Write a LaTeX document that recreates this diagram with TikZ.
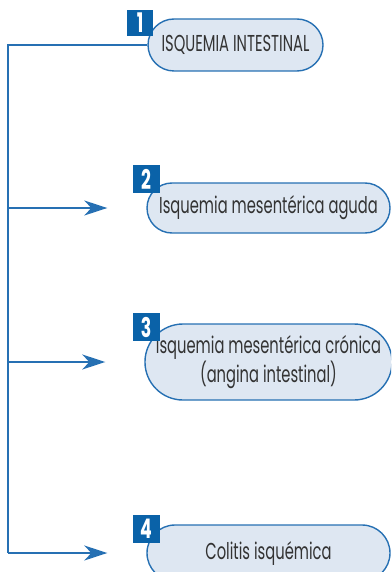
\documentclass[tikz,border=0pt]{standalone}
\usepackage{fontspec}
\setmainfont{Poppins}[FakeStretch=0.64]
\usetikzlibrary{arrows.meta,shapes.misc}
\definecolor{lineblue}{HTML}{2670B3}
\definecolor{numblue}{HTML}{0A62A8}
\definecolor{pillfill}{HTML}{DEE7F2}
\definecolor{txtgray}{HTML}{333333}
\begin{document}
\begin{tikzpicture}[x=1pt,y=-1pt,
pill/.style={rounded rectangle,draw=lineblue,line width=1.4pt,fill=pillfill,inner sep=0pt,text=txtgray,font=\fontsize{23}{29}\selectfont,align=center},
num/.style={fill=numblue,text=white,font=\fontsize{27}{27}\selectfont\bfseries,minimum width=27pt,minimum height=28pt,inner sep=0pt},
link/.style={draw=lineblue,line width=1.6pt},
arr/.style={link,-{Stealth[length=23pt,width=15pt,inset=7pt]},shorten >=39pt}]
\useasboundingbox(0,0)rectangle(391,572);\clip(0,0)rectangle(391,572);
\coordinate(top)at(8,45);\coordinate(bot)at(8,553);
\node[pill,minimum width=175pt,minimum height=52pt](isq)at(235.5,45){ISQUEMIA INTESTINAL};
\node[pill,minimum width=243pt,minimum height=50pt](aguda)at(268.5,208){Isquemia mesentérica aguda};
\node[pill,minimum width=243pt,minimum height=76pt](cronica)at(268.5,362){Isquemia mesentérica crónica\\(angina intestinal)};
\node[pill,minimum width=243pt,minimum height=56pt](colitis)at(268.5,553){Colitis isquémica};
\node[num,minimum width=26pt,minimum height=26pt](n1)at(140,23){1};
\node[num](n2)at(146,179){2};\node[num](n3)at(146,327){3};\node[num](n4)at(146,529){4};
\draw[link](isq.west)--(top)--(bot);
\draw[arr](top|-aguda.west)--(aguda.west);\draw[arr](top|-cronica.west)--(cronica.west);\draw[arr](bot)--(colitis.west);
\end{tikzpicture}
\end{document}
